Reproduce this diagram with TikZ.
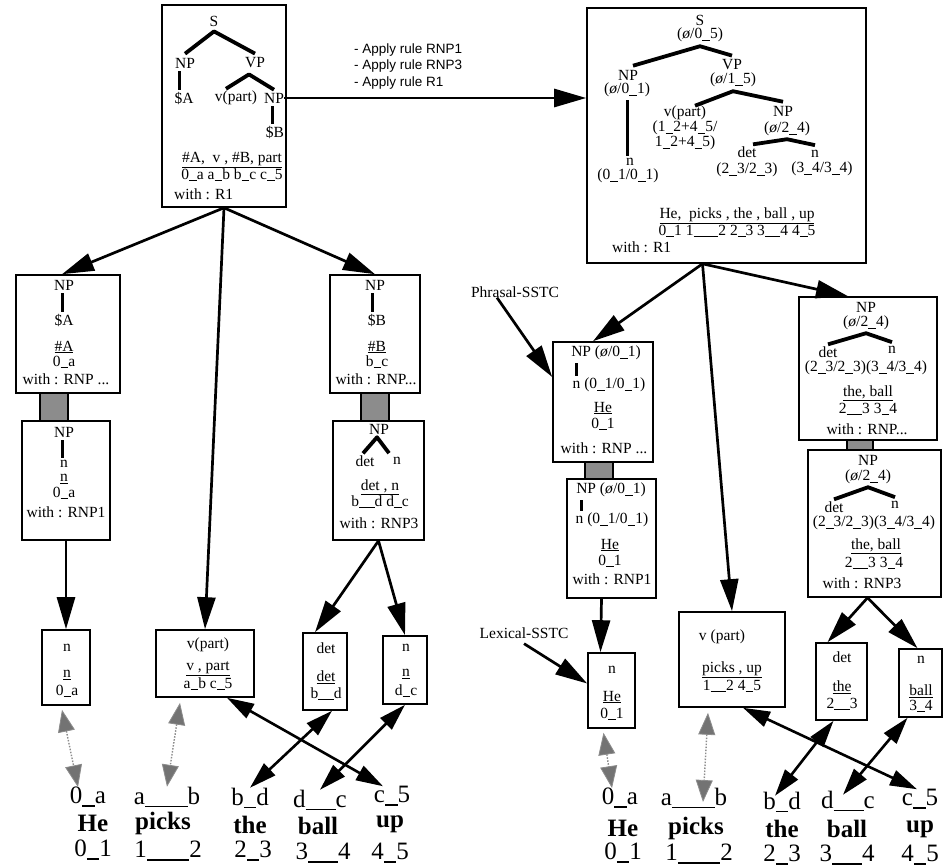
\documentclass[tikz,border=0pt]{standalone}
\usepackage{fontspec}
\setmainfont{Liberation Serif}
\setsansfont{Liberation Sans}
\usetikzlibrary{arrows.meta,fit}
\newcommand{\usc}[1][0.5]{\rule[-0.11em]{#1em}{0.055em}}
\begin{document}
\begin{tikzpicture}[x=1pt,y=-1pt,
  box/.style={draw,line width=1.6pt,inner sep=0pt,fill=white},
  link/.style={draw,line width=1.6pt,inner sep=0pt,fill=black!45},
  t/.style={inner sep=0pt,font=\fontsize{15.5}{16}\selectfont},
  tl/.style={inner sep=0pt,align=center,font=\fontsize{15.5}{13}\selectfont},
  big/.style={inner sep=0pt,font=\fontsize{25}{26}\selectfont},
  bigb/.style={inner sep=0pt,font=\fontsize{25}{26}\selectfont\bfseries},
  rul/.style={inner sep=0pt,anchor=west,font=\sffamily\fontsize{13.5}{14}\selectfont},
  tr/.style={line width=3.8pt,line join=round},
  vl/.style={line width=3pt,shorten <=3pt,shorten >=2pt},
  arr/.style={line width=2.7pt,-{Triangle[length=32pt,width=18pt]}},
  dbl/.style={line width=2.6pt,{Triangle[length=27pt,width=16pt]}-{Triangle[length=27pt,width=16pt]}},
  lex/.style={draw=black!45,line width=1.4pt,dash pattern=on 1.5pt off 1.5pt,
     {Triangle[length=22pt,width=17pt,fill=black!55,line width=0.8pt]}-{Triangle[length=22pt,width=17pt,fill=black!55,line width=0.8pt]}}
]
\useasboundingbox (0,0) rectangle (944,866);

% ---------- links and boxes
\node[link,fit={(40,393)(68,421)}] (k1) {};
\node[link,fit={(361,393)(389,421)}] (k2) {};
\node[link,fit={(585,462)(613,479)}] (k3) {};
\node[link,fit={(847,440)(873,450)}] (k4) {};
\node[box,fit={(162,5)(286,207)}] (TL) {};
\node[box,fit={(587,8)(866,263)}] (TR) {};
\node[box,fit={(16,275)(120,393)}] (L1) {};
\node[box,fit={(22,421)(110,540)}] (L2) {};
\node[box,fit={(330,275)(420,393)}] (L3) {};
\node[box,fit={(333,421)(424,540)}] (L4) {};
\node[box,fit={(42,630)(90,705)}] (Ln) {};
\node[box,fit={(156,630)(254,697)}] (Lv) {};
\node[box,fit={(303,633)(347,710)}] (Ld) {};
\node[box,fit={(383,636)(427,704)}] (Lnn) {};
\node[box,fit={(553,342)(653,462)}] (R1) {};
\node[box,fit={(567,479)(656,598)}] (R2) {};
\node[box,fit={(799,297)(937,440)}] (R3) {};
\node[box,fit={(808,450)(941,597)}] (R4) {};
\node[box,fit={(588,653)(635,728)}] (Rn) {};
\node[box,fit={(679,612)(785,707)}] (Rv) {};
\node[box,fit={(816,643)(867,720)}] (Rd) {};
\node[box,fit={(899,649)(942,717)}] (Rnn) {};

% ---------- top left box
\node[t] (tlS) at (214,21) {S};
\node[t] (tlNP) at (185,63) {NP};
\node[t] (tlVP) at (255,63) {VP};
\node[t] (tlA) at (184,98) {\$A};
\node[t] (tlv) at (236,98) {v(part)};
\node[t] (tlNP2) at (274,98) {NP};
\node[t] (tlB) at (275,132) {\$B};
\node[t] (tlseq) at (232,160) {\underline{\#A,\ \ v , \#B, part}};
\node[t] (tlidx) at (232,175) {0\usc a a\usc b b\usc c c\usc 5};
\node[t,anchor=west] (tlw) at (174,194) {with : R1};
\draw[tr] ([yshift=4pt]tlNP.north) -- ([yshift=-5pt]tlS.south) -- ([yshift=4pt]tlVP.north);
\draw[tr] ([xshift=-10pt,yshift=2pt]tlv.north) -- ([xshift=-6pt,yshift=-6pt]tlVP.south) -- ([yshift=3pt]tlNP2.north);
\draw[vl] ([xshift=-6pt]tlNP.south) -- ([xshift=-6pt]tlNP.south |- tlA.north);
\draw[vl] ([xshift=-2pt]tlNP2.south) -- ([xshift=-2pt]tlNP2.south |- tlB.north);

% ---------- top right box
\node[t] (trS) at (700,20) {S};
\node[t] (trS2) at (700,35) {(\textit{ø}/0\usc 5)};
\node[t] (trNP) at (628,75) {NP};
\node[t] (trNP2) at (627,90) {(\textit{ø}/0\usc 1)};
\node[t] (trVP) at (732,65) {VP};
\node[t] (trVP2) at (733,80) {(\textit{ø}/1\usc 5)};
\node[t] (trn) at (630,162) {n};
\node[t] (trn2) at (628,176) {(0\usc 1/0\usc 1)};
\node[tl] (trv) at (685,128) {v(part)\\(1\usc 2+4\usc 5/\\1\usc 2+4\usc 5)};
\node[t] (trNP3) at (783,111) {NP};
\node[t] (trNP4) at (787,129) {(\textit{ø}/2\usc 4)};
\node[t] (trdet) at (747,152) {det};
\node[t] (trdet2) at (747,170) {(2\usc 3/2\usc 3)};
\node[t] (trnn) at (815,154) {n};
\node[t] (trnn2) at (822,169) {(3\usc 4/3\usc 4)};
\node[t] (trseq) at (737,216) {\underline{He,\ \ picks , the , ball , up}};
\node[t] (tridx) at (737,231) {0\usc 1 1\usc[1.6]2 2\usc 3 3\usc[1]4 4\usc 5};
\node[t,anchor=west] (trw) at (612,247) {with : R1};
\draw[tr] ([xshift=5pt,yshift=4pt]trNP.north) -- ([yshift=-4pt]trS2.south) -- ([yshift=4pt]trVP.north);
\draw[vl] (trNP2.south) -- (trNP2.south |- trn.north);
\draw[tr] ([xshift=10pt]trv.north) -- ([yshift=-4pt]trVP2.south) -- ([yshift=4pt]trNP3.north);
\draw[tr] ([xshift=6pt,yshift=2pt]trdet.north) -- ([yshift=-3pt]trNP4.south) -- ([yshift=5pt]trnn.north);

% ---------- left middle boxes
\node[t] (l1NP) at (64,285) {NP};
\node[t] (l1A) at (64,320) {\$A};
\node[t] (l1seq) at (64,347) {\underline{\#A}};
\node[t] (l1idx) at (64,362) {0\usc a};
\node[t] (l1w) at (66,379) {with : RNP ...};
\draw[vl] ([xshift=-2pt]l1NP.south) -- ([xshift=-2pt]l1NP.south |- l1A.north);

\node[t] (l2NP) at (64,432) {NP};
\node[t] (l2n) at (64,464) {n};
\node[t] (l2seq) at (64,479) {\underline{n}};
\node[t] (l2idx) at (64,493) {0\usc a};
\node[t] (l2w) at (66,512) {with : RNP1};
\draw[vl] ([xshift=-2pt]l2NP.south) -- ([xshift=-2pt]l2NP.south |- l2n.north);

\node[t] (l3NP) at (375,285) {NP};
\node[t] (l3B) at (377,320) {\$B};
\node[t] (l3seq) at (377,347) {\underline{\#B}};
\node[t] (l3idx) at (377,362) {b\usc c};
\node[t] (l3w) at (376,379) {with : RNP...};
\draw[vl] ([xshift=-3pt]l3NP.south) -- ([xshift=-3pt]l3NP.south |- l3B.north);

\node[t] (l4NP) at (379,429) {NP};
\node[t] (l4det) at (365,461) {det};
\node[t] (l4n) at (397,461) {n};
\node[t] (l4seq) at (380,487) {\underline{det , n}};
\node[t] (l4idx) at (380,502) {b\usc[1]d d\usc c};
\node[t] (l4w) at (379,523) {with : RNP3};
\draw[tr] ([xshift=-2pt,yshift=2pt]l4det.north) -- ([xshift=-2pt,yshift=-3pt]l4NP.south) -- ([xshift=-8pt,yshift=4pt]l4n.north);

% ---------- left lexical boxes
\node[t] (lna) at (67,648) {n};
\node[t] (lnb) at (67,675) {\underline{n}};
\node[t] (lnc) at (67,691) {0\usc a};
\node[t] (lva) at (208,645) {v(part)};
\node[t] (lvb) at (208,669) {\underline{v , part}};
\node[t] (lvc) at (208,684) {a\usc b c\usc 5};
\node[t] (lda) at (326,648) {det};
\node[t] (ldb) at (326,677) {\underline{det}};
\node[t] (ldc) at (326,694) {b\usc[1]d};
\node[t] (lnna) at (406,648) {n};
\node[t] (lnnb) at (406,674) {\underline{n}};
\node[t] (lnnc) at (406,691) {d\usc c};

% ---------- right middle boxes
\node[t] (r1NP) at (606,353) {NP (\textit{ø}/0\usc 1)};
\node[t] (r1n) at (609,385) {n (0\usc 1/0\usc 1)};
\node[t] (r1seq) at (603,408) {\underline{He}};
\node[t] (r1idx) at (603,424) {0\usc 1};
\node[t] (r1w) at (604,448) {with : RNP ...};
\draw[vl] ([xshift=5pt]r1NP.south west) -- ([xshift=5pt]r1NP.south west |- r1n.north);

\node[t] (r2NP) at (611,490) {NP (\textit{ø}/0\usc 1)};
\node[t] (r2n) at (612,520) {n (0\usc 1/0\usc 1)};
\node[t] (r2seq) at (610,545) {\underline{He}};
\node[t] (r2idx) at (610,561) {0\usc 1};
\node[t] (r2w) at (612,579) {with : RNP1};
\draw[vl] ([xshift=5pt]r2NP.south west) -- ([xshift=5pt]r2NP.south west |- r2n.north);

\node[t] (r3NP) at (866,307) {NP};
\node[t] (r3NPb) at (866,323) {(\textit{ø}/2\usc 4)};
\node[t] (r3det) at (828,352) {det};
\node[t] (r3n) at (892,350) {n};
\node[t] (r3pos) at (866,368) {(2\usc 3/2\usc 3)(3\usc 4/3\usc 4)};
\node[t] (r3seq) at (868,393) {\underline{the, ball}};
\node[t] (r3idx) at (868,409) {2\usc[1]3 3\usc 4};
\node[t] (r3w) at (867,429) {with : RNP...};
\draw[tr] ([yshift=2pt]r3det.north) -- ([yshift=-3pt]r3NPb.south) -- ([yshift=4pt]r3n.north);

\node[t] (r4NP) at (868,460) {NP};
\node[t] (r4NPb) at (868,477) {(\textit{ø}/2\usc 4)};
\node[t] (r4det) at (834,507) {det};
\node[t] (r4n) at (895,505) {n};
\node[t] (r4pos) at (874,523) {(2\usc 3/2\usc 3)(3\usc 4/3\usc 4)};
\node[t] (r4seq) at (876,546) {\underline{the, ball}};
\node[t] (r4idx) at (874,563) {2\usc[1]3 3\usc 4};
\node[t] (r4w) at (862,583) {with : RNP3};
\draw[tr] ([yshift=2pt]r4det.north) -- ([yshift=-3pt]r4NPb.south) -- ([yshift=4pt]r4n.north);

% ---------- right lexical boxes
\node[t] (rna) at (612,670) {n};
\node[t] (rnb) at (612,697) {\underline{He}};
\node[t] (rnc) at (612,714) {0\usc 1};
\node[t] (rva) at (722,637) {v (part)};
\node[t] (rvb) at (732,670) {\underline{picks , up}};
\node[t] (rvc) at (732,686) {1\usc[1]2 4\usc 5};
\node[t] (rda) at (842,657) {det};
\node[t] (rdb) at (842,687) {\underline{the}};
\node[t] (rdc) at (842,704) {2\usc[1]3};
\node[t] (rnna) at (921,660) {n};
\node[t] (rnnb) at (921,691) {\underline{ball}};
\node[t] (rnnc) at (921,706) {3\usc 4};

% ---------- bottom word rows
\node[big] (Lw0a) at (88,797) {0\usc a};
\node[big] (Lwab) at (167,797) {a\usc[1.7]b};
\node[big] (Lwbd) at (250,798) {b\usc d};
\node[big] (Lwdc) at (320,800) {d\usc[1.2]c};
\node[big] (Lwc5) at (392,796) {c\usc 5};
\node[bigb] (LwHe) at (93,823) {He};
\node[bigb] (Lwpicks) at (163,823) {picks};
\node[bigb] (Lwthe) at (250,825) {the};
\node[bigb] (Lwball) at (318,826) {ball};
\node[bigb] (Lwup) at (390,824) {up};
\node[big] (Lw01) at (93,850) {0\usc 1};
\node[big] (Lw12) at (168,851) {1\usc[1.7]2};
\node[big] (Lw23) at (253,851) {2\usc 3};
\node[big] (Lw34) at (323,853) {3\usc[1.2]4};
\node[big] (Lw45) at (390,853) {4\usc 5};

\node[big] (Rw0a) at (620,798) {0\usc a};
\node[big] (Rwab) at (694,798) {a\usc[1.7]b};
\node[big] (Rwbd) at (782,802) {b\usc d};
\node[big] (Rwdc) at (848,801) {d\usc[1.2]c};
\node[big] (Rwc5) at (920,799) {c\usc 5};
\node[bigb] (RwHe) at (623,828) {He};
\node[bigb] (Rwpicks) at (696,828) {picks};
\node[bigb] (Rwthe) at (782,829) {the};
\node[bigb] (Rwball) at (847,829) {ball};
\node[bigb] (Rwup) at (920,829) {up};
\node[big] (Rw01) at (623,853) {0\usc 1};
\node[big] (Rw12) at (699,854) {1\usc[1.7]2};
\node[big] (Rw23) at (782,855) {2\usc 3};
\node[big] (Rw34) at (847,855) {3\usc[1.2]4};
\node[big] (Rw45) at (920,855) {4\usc 5};

% ---------- labels
\node[rul] (ap1) at (354,50) {- Apply rule RNP1};
\node[rul] (ap2) at (354,66) {- Apply rule RNP3};
\node[rul] (ap3) at (354,83) {- Apply rule R1};
\node[t] (phr) at (515,292) {Phrasal-SSTC};
\node[t] (lexl) at (524,633) {Lexical-SSTC};

% ---------- connectors
\draw[arr] (tlNP2.east) -- (TR.west |- tlNP2.east);
\draw[arr] (TL.south) -- ([xshift=-6pt]L1.north);
\draw[arr] (TL.south) -- (Lv.north);
\draw[arr] (TL.south) -- (L3.north);
\draw[arr] (L2.south) -- (Ln.north);
\draw[arr] (L4.south) -- ([xshift=-10pt]Ld.north);
\draw[arr] (L4.south) -- (Lnn.north);
\coordinate (trs) at ([xshift=-24pt]TR.south);
\draw[arr] (trs) -- ([xshift=-10pt]R1.north);
\draw[arr] (trs) -- (Rv.north);
\draw[arr] (trs) -- ([xshift=-20pt]R3.north);
\draw[arr] ([xshift=-10pt]R2.south) -- ([xshift=-11pt]Rn.north);
\draw[arr] ([xshift=-7pt]R4.south) -- ([xshift=-14pt]Rd.north);
\draw[arr] ([xshift=-7pt]R4.south) -- ([xshift=-3pt]Rnn.north);
\draw[arr] ([xshift=-18pt]phr.south) -- ([yshift=25pt]R1.west);
\draw[arr] ([yshift=-5pt]lexl.south) -- ([yshift=7pt]Rn.west);

\draw[dbl] ([xshift=22pt]Lv.south) -- ([xshift=-9pt]Lwc5.north);
\draw[dbl] ([xshift=7pt]Ld.south) -- (Lwbd.north);
\draw[dbl] (Lnn.south) -- (Lwdc.north);
\draw[lex] ([xshift=-4pt,yshift=-4pt]Ln.south) -- ([xshift=-10pt]Lw0a.north);
\draw[lex] ([xshift=-25pt,yshift=-5pt]Lv.south) -- (Lwab.north);

\draw[dbl] ([xshift=11pt]Rv.south) -- ([xshift=-3pt]Rwc5.north);
\draw[dbl] ([xshift=-8pt]Rd.south) -- ([xshift=-7pt,yshift=-4pt]Rwbd.north);
\draw[dbl] ([xshift=-13pt]Rnn.south) -- ([xshift=-5pt,yshift=-4pt]Rwdc.north);
\draw[lex] ([xshift=-8pt,yshift=-4pt]Rn.south) -- ([xshift=-8pt]Rw0a.north);
\draw[lex] ([xshift=-24pt,yshift=-5pt]Rv.south) -- ([xshift=9pt,yshift=-4pt]Rwab.center);
\end{tikzpicture}
\end{document}
